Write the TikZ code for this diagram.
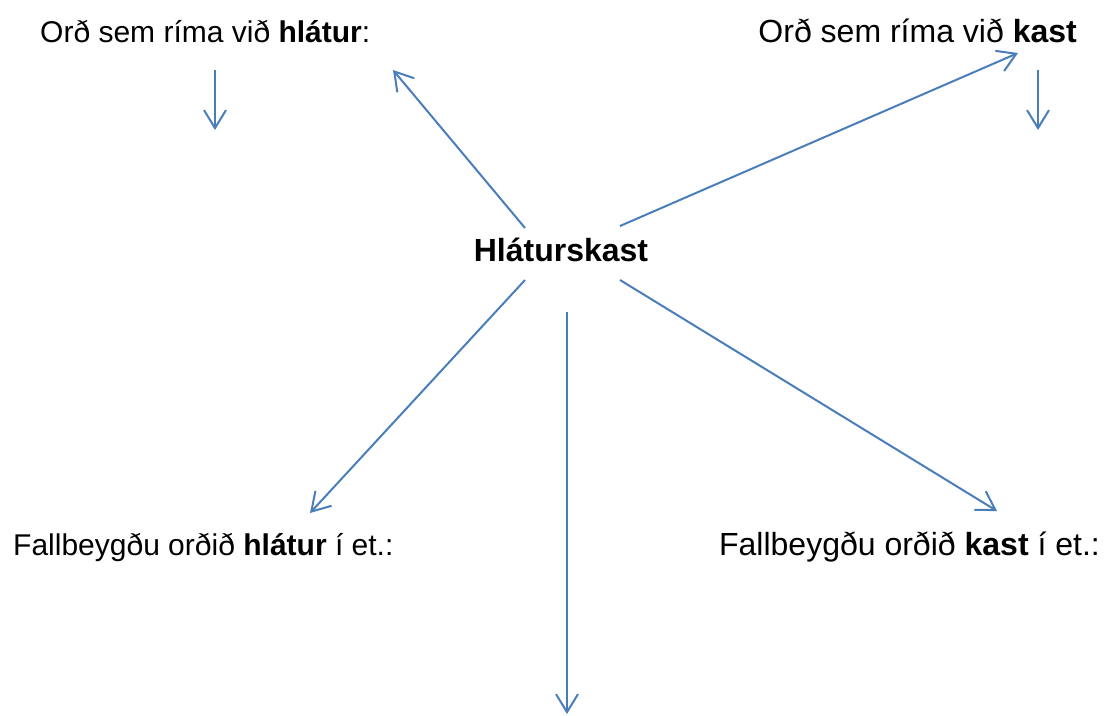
\documentclass[tikz,border=0pt]{standalone}
\usepackage{fontspec}
\setmainfont{Liberation Sans}
\usetikzlibrary{arrows.meta}
\definecolor{linkblue}{RGB}{74,126,187}

\begin{document}
\begin{tikzpicture}[x=1pt, y=-1pt,
                    >={Straight Barb[length=18pt, width=22pt]},
                    word/.style={font=\fontsize{30}{36}\selectfont, inner sep=0pt},
                    bigword/.style={font=\fontsize{32}{38}\selectfont, inner sep=0pt},
                    link/.style={->, draw=linkblue, line width=2pt}]

\useasboundingbox (0,0) rectangle (1118,715);

\node [bigword] (hub) at (561,250) {\textbf{Hláturskast}};

\node [word, anchor=base west] (rimhl) at (40,42) {Orð sem ríma við \textbf{hlátur}:};
\node [bigword, anchor=base east] (rimka) at (1077,42) {Orð sem ríma við \textbf{kast}};
\node [word, anchor=base west] (beyhl) at (13,555) {Fallbeygðu orðið \textbf{hlátur} í et.:};
\node [bigword, anchor=base east] (beyka) at (1100,555) {Fallbeygðu orðið \textbf{kast} í et.:};

% ends of the arrows
\coordinate (hnw) at (525,228);
\coordinate (hne) at (620,226);
\coordinate (hsw) at (525,280);
\coordinate (hse) at (620,280);
\coordinate (hs) at (567,312);
\coordinate (tnw) at (393,70);
\coordinate (tne) at (1018,53);
\coordinate (tsw) at (310,513);
\coordinate (tse) at (997,511);
\coordinate (ts) at (567,714);
\coordinate (hla) at (215,70);
\coordinate (hlb) at (215,130);
\coordinate (kaa) at (1038,70);
\coordinate (kab) at (1038,130);

\draw [link] (hnw) -- (tnw);
\draw [link] (hne) -- (tne);
\draw [link] (hsw) -- (tsw);
\draw [link] (hse) -- (tse);
\draw [link] (hs) -- (ts);
\draw [link] (hla) -- (hlb);
\draw [link] (kaa) -- (kab);

\end{tikzpicture}
\end{document}
